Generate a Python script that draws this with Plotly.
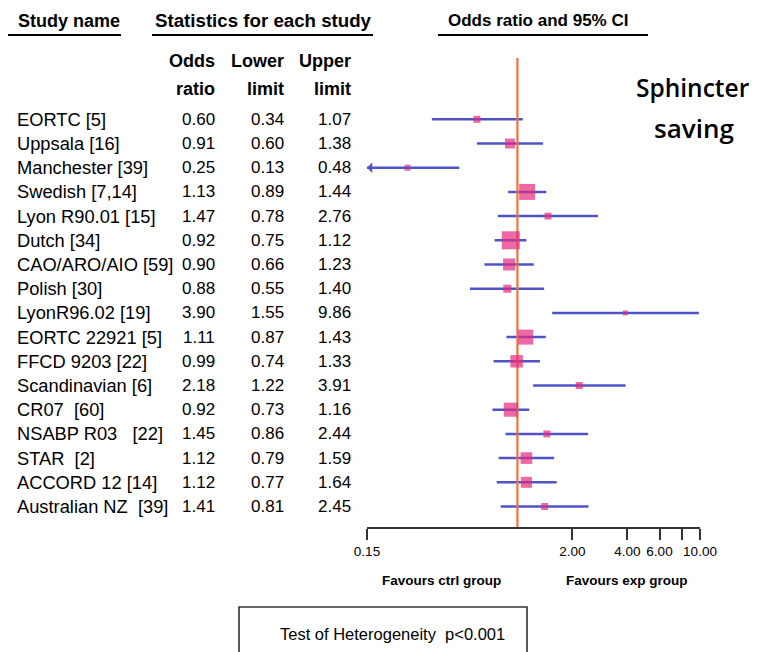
import math
import plotly.graph_objects as go

# ---------------- data ----------------
studies = ["EORTC [5]", "Uppsala [16]", "Manchester [39]", "Swedish [7,14]",
           "Lyon R90.01 [15]", "Dutch [34]", "CAO/ARO/AIO [59]", "Polish [30]",
           "LyonR96.02 [19]", "EORTC 22921 [5]", "FFCD 9203 [22]", "Scandinavian [6]",
           "CR07  [60]", "NSABP R03   [22]", "STAR  [2]", "ACCORD 12 [14]",
           "Australian NZ  [39]"]
odds_ratio = [0.60, 0.91, 0.25, 1.13, 1.47, 0.92, 0.90, 0.88, 3.90, 1.11, 0.99,
              2.18, 0.92, 1.45, 1.12, 1.12, 1.41]
lower_limit = [0.34, 0.60, 0.13, 0.89, 0.78, 0.75, 0.66, 0.55, 1.55, 0.87, 0.74,
               1.22, 0.73, 0.86, 0.79, 0.77, 0.81]
upper_limit = [1.07, 1.38, 0.48, 1.44, 2.76, 1.12, 1.23, 1.40, 9.86, 1.43, 1.33,
               3.91, 1.16, 2.44, 1.59, 1.64, 2.45]
# relative weights (%)
rel_weight = [2.4, 4.9, 1.8, 12.6, 2.4, 16.0, 7.1, 3.2, 1.2, 11.1, 7.7, 2.4,
              9.7, 2.4, 6.7, 6.0, 2.4]
tick_vals = [0.15, 2, 4, 6, 8, 10]
tick_text = ["0.15", "2.00", "4.00", "6.00", "", "10.00"]
x_min, x_max = 0.15, 10.0

# ---------------- styling ----------------
W, H = 757, 652
OFF = 8  # page body margin compensation
FONT = "Liberation Sans, Arial, sans-serif"
BLUE = "#4E54C6"
PINK = "#E52A7E"
ORANGE = "#F2703C"

def px(xp):
    return (xp - OFF) / W

def py(yp):
    return 1 - (yp - OFF) / H

n = len(studies)
rows = list(range(n))
row0_px, row_step = 119.3, 24.2
dom_top_px, dom_bot_px = 58, 527
y_top = (dom_top_px - row0_px) / row_step
y_bot = (dom_bot_px - row0_px) / row_step

fig = go.Figure()

# CI lines (clipped to axis range)
xs, ys = [], []
for i in rows:
    xs += [max(lower_limit[i], x_min), min(upper_limit[i], x_max), None]
    ys += [i, i, None]
fig.add_trace(go.Scatter(x=xs, y=ys, mode="lines",
                         line=dict(color=BLUE, width=2.5),
                         hoverinfo="skip", showlegend=False))

# reference line at OR = 1
fig.add_trace(go.Scatter(x=[1, 1], y=[y_top, y_bot], mode="lines",
                         line=dict(color=ORANGE, width=2.2),
                         hoverinfo="skip", showlegend=False))

# squares
sizes = [4.5 * math.sqrt(w) for w in rel_weight]
fig.add_trace(go.Scatter(x=odds_ratio, y=rows, mode="markers",
                         marker=dict(symbol="square", size=sizes, color=PINK,
                                     line=dict(width=0)),
                         showlegend=False))

ann = []
# arrow for CI that goes below axis minimum
for i in rows:
    if lower_limit[i] < x_min:
        ann.append(dict(x=math.log10(x_min), y=i, ax=math.log10(upper_limit[i]) - 0.25, ay=i,
                        xref="x", yref="y", axref="x", ayref="y", text="",
                        showarrow=True, arrowhead=1, arrowsize=1.1, arrowwidth=1.6,
                        arrowcolor=BLUE))

# table text
for i in rows:
    ann.append(dict(x=px(15), y=i, xref="paper", yref="y", text=studies[i],
                    xanchor="left", yanchor="middle", showarrow=False,
                    font=dict(family=FONT, size=18.3, color="black")))
    for col, vals in ((216, odds_ratio), (285, lower_limit), (352, upper_limit)):
        ann.append(dict(x=px(col + 1), y=i, xref="paper", yref="y", text=f"{vals[i]:.2f}",
                        xanchor="right", yanchor="middle", showarrow=False,
                        font=dict(family=FONT, size=17, color="black")))

# headers
def head(text, x, y, anchor="left", size=18, bold=True, fam=FONT, color="black"):
    ann.append(dict(x=px(x), y=py(y), xref="paper", yref="paper",
                    text=f"<b>{text}</b>" if bold else text,
                    xanchor=anchor, yanchor="middle", showarrow=False,
                    font=dict(family=fam, size=size, color=color)))

head("Study name", 16, 21)
head("Statistics for each study", 153, 21, size=18.7)
head("Odds ratio and 95% CI", 446, 21, size=17)
for col, t1, t2 in ((216, "Odds", "ratio"), (285, "Lower", "limit"), (352, "Upper", "limit")):
    head(t1, col + 1, 61, anchor="right")
    head(t2, col + 1, 89, anchor="right")

head("Favours ctrl group", 441, 580, anchor="center", size=13.5)
head("Favours exp group", 627, 580, anchor="center", size=13.5)
head("Test of Heterogeneity  p&lt;0.001", 392, 634, anchor="center", size=16.5, bold=False)

ann.append(dict(x=px(693), y=py(88), xref="paper", yref="paper", text="Sphincter",
                xanchor="center", yanchor="middle", showarrow=False,
                font=dict(family="Open Sans, sans-serif", size=24.5, color="black", weight=600)))
ann.append(dict(x=px(694), y=py(128), xref="paper", yref="paper", text="saving",
                xanchor="center", yanchor="middle", showarrow=False,
                font=dict(family="Open Sans, sans-serif", size=26, color="black", weight=600)))

shapes = []
for x0, x1 in ((5, 121), (152, 373), (438, 648)):
    shapes.append(dict(type="line", xref="paper", yref="paper",
                       x0=px(x0), x1=px(x1), y0=py(35), y1=py(35),
                       line=dict(color="black", width=2)))
shapes.append(dict(type="rect", xref="paper", yref="paper",
                   x0=px(239), x1=px(527), y0=py(607), y1=py(675),
                   line=dict(color="#333333", width=1.6)))

fig.update_layout(
    width=W, height=H, autosize=False,
    margin=dict(l=0, r=0, t=0, b=0, pad=0, autoexpand=False),
    paper_bgcolor="white", plot_bgcolor="white",
    annotations=ann, shapes=shapes, showlegend=False,
    xaxis=dict(type="log", domain=[px(367), px(700)],
               range=[math.log10(x_min), math.log10(x_max)],
               tickvals=tick_vals, ticktext=tick_text,
               showgrid=False, zeroline=False, automargin=False,
               showline=True, linecolor="#333333", linewidth=2,
               ticks="outside", ticklen=11, tickwidth=2, tickcolor="#333333",
               tickfont=dict(family=FONT, size=13.5, color="black")),
    yaxis=dict(range=[y_bot, y_top], domain=[py(dom_bot_px), py(dom_top_px)],
               visible=False, showgrid=False, zeroline=False, automargin=False),
)

fig.write_html("out.html", config={"responsive": False})
